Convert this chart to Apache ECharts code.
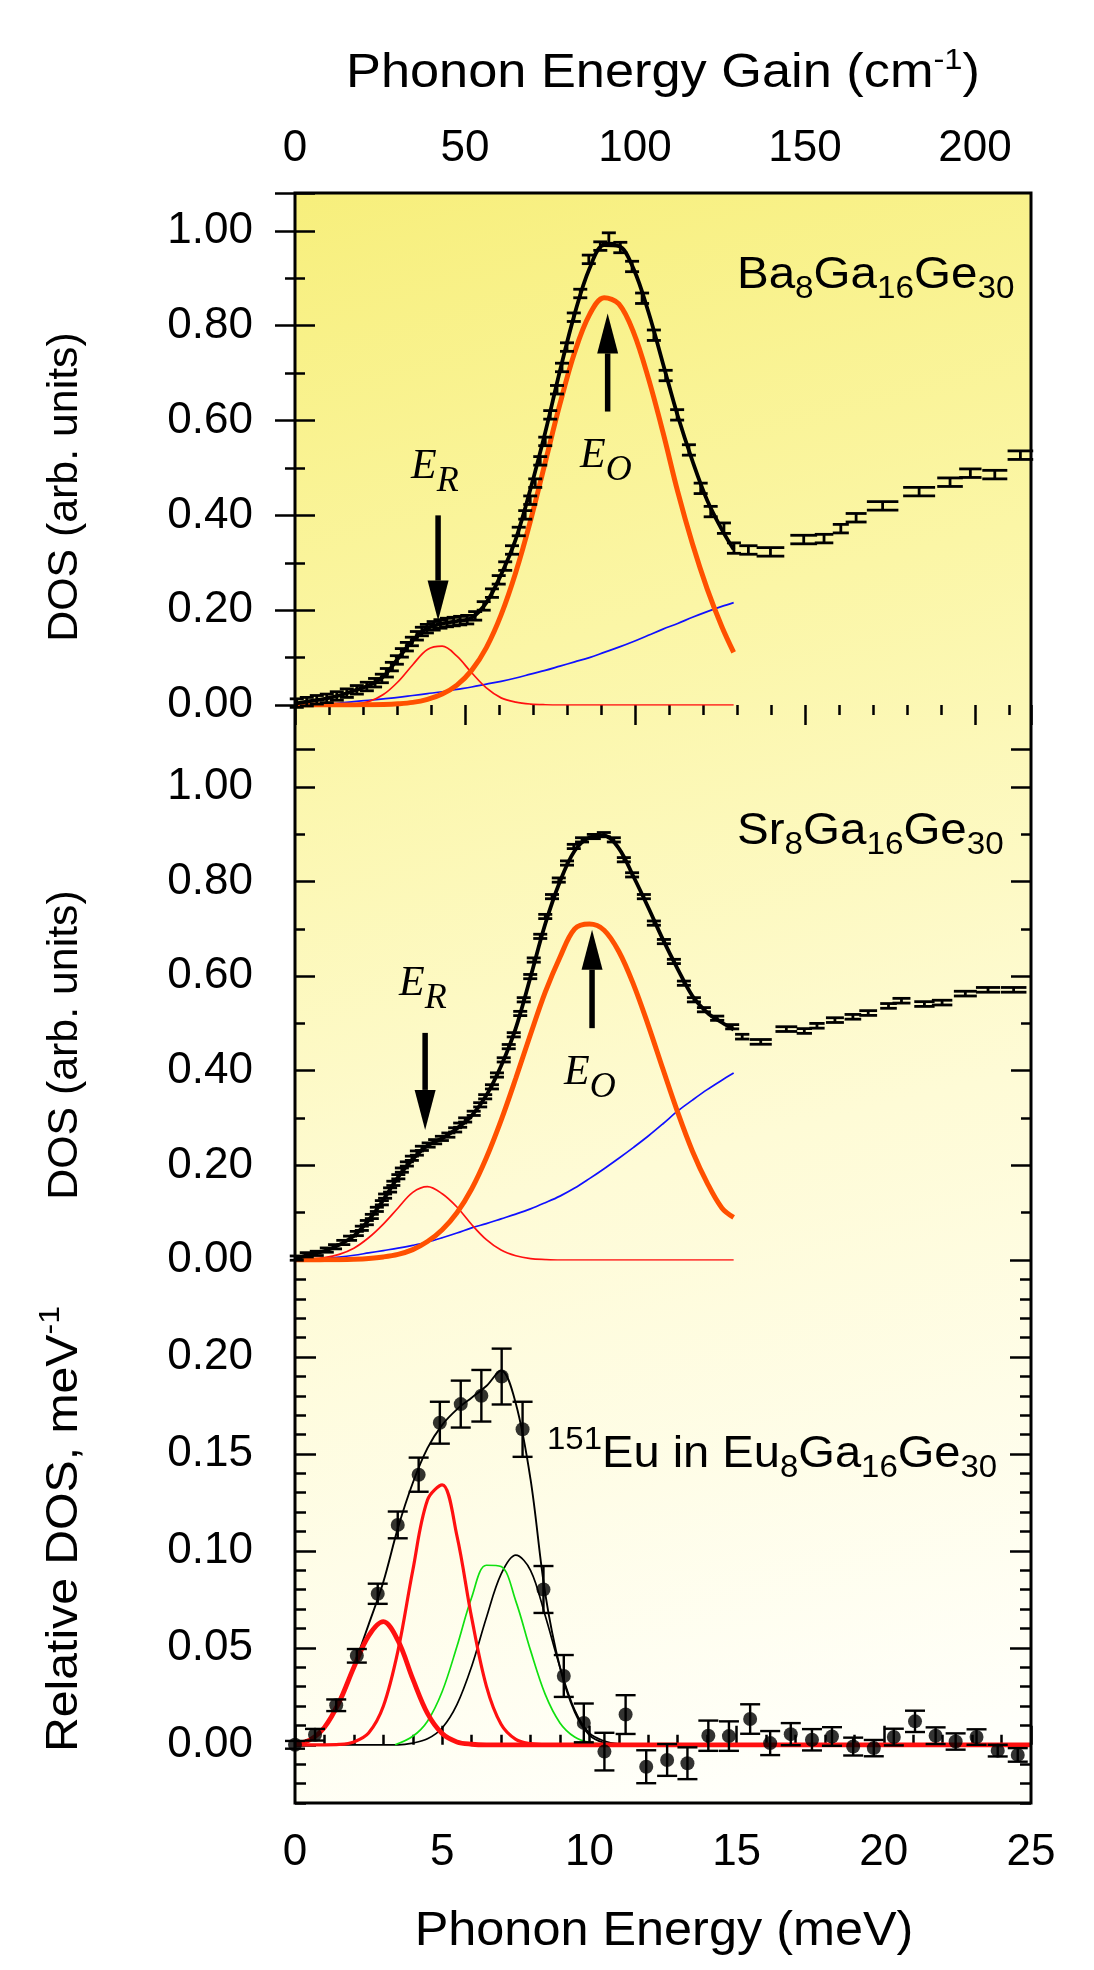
<!DOCTYPE html>
<html><head><meta charset="utf-8">
<script src="https://cdn.jsdelivr.net/npm/echarts@6/dist/echarts.min.js"></script>
<style>html,body{margin:0;padding:0;background:#fff}#c{width:1094px;height:1970px}</style>
</head><body><div id="c"></div>
<script>
// ---------------- DATA ----------------
// shared energy grid for the fit curves of panels 1 and 2 (meV)
const fitE = [0,0.5,1,1.5,2,2.5,3,3.5,4,4.5,5,5.5,6,6.5,7,7.5,8,8.5,9,9.5,10,10.5,11,11.5,12,12.5,13,13.5,14,14.5,14.9];
// Ba8Ga16Ge30 fits
const baRed    = [0,0,0.0001,0.0004,0.002,0.007,0.022,0.049,0.085,0.117,0.124,0.103,0.068,0.036,0.015,0.006,0.002,0.0005,0,0,0,0,0,0,0,0,0,0,0,0,0];
const baOrange = [0,0,0,0,0.0002,0.0005,0.001,0.0025,0.0055,0.012,0.023,0.042,0.073,0.121,0.19,0.28,0.389,0.512,0.635,0.744,0.823,0.859,0.846,0.786,0.69,0.575,0.45,0.34,0.245,0.165,0.111];
const baBlue   = [0,0.0005,0.002,0.004,0.007,0.01,0.013,0.016,0.02,0.024,0.028,0.033,0.038,0.044,0.05,0.057,0.065,0.073,0.082,0.091,0.1,0.111,0.122,0.134,0.147,0.16,0.172,0.185,0.197,0.208,0.216];
const baTotal  = [0.003,0.008,0.013,0.02,0.03,0.041,0.06,0.098,0.136,0.162,0.172,0.177,0.184,0.216,0.275,0.35,0.456,0.575,0.705,0.825,0.92,0.97,0.968,0.92,0.83,0.72,0.61,0.515,0.432,0.37,0.328];
// Ba8Ga16Ge30 measured DOS
const baE = [0.06,0.40,0.74,1.08,1.42,1.76,2.10,2.44,2.72,2.95,3.12,3.29,3.46,3.63,3.80,3.97,4.14,4.31,4.48,4.71,4.94,5.16,5.39,5.61,5.85,6.12,6.41,6.69,6.92,7.14,7.37,7.60,7.82,7.99,8.16,8.33,8.50,8.67,8.90,9.07,9.24,9.47,9.69,9.98,10.37,10.66,11.05,11.45,11.79,12.19,12.59,12.98,13.38,13.78,14.12,14.57,14.91,15.40,16.15,17.28,17.97,18.54,19.06,19.96,21.20,22.25,22.94,23.77,24.64];
const baV = [0.004,0.007,0.011,0.014,0.019,0.025,0.032,0.039,0.047,0.056,0.068,0.081,0.095,0.110,0.123,0.134,0.146,0.155,0.161,0.167,0.171,0.174,0.176,0.178,0.180,0.188,0.209,0.236,0.264,0.293,0.327,0.366,0.401,0.432,0.468,0.515,0.556,0.612,0.665,0.712,0.755,0.818,0.868,0.940,0.968,0.985,0.965,0.925,0.858,0.780,0.695,0.612,0.538,0.457,0.408,0.373,0.331,0.327,0.323,0.349,0.351,0.372,0.395,0.420,0.450,0.470,0.489,0.486,0.527];
const baErr = [0.009,0.009,0.009,0.009,0.009,0.009,0.009,0.009,0.009,0.009,0.009,0.009,0.009,0.009,0.009,0.009,0.009,0.009,0.009,0.009,0.009,0.009,0.009,0.009,0.009,
  0.009,0.009,0.009,0.009,0.009,0.009,0.009,0.009,0.009,0.009,0.009,0.009,0.009,0.009,0.009,0.009,0.009,0.009,0.009,0.009,
  0.011,0.011,0.011,0.011,0.011,0.011,0.011,0.011,0.011,0.011,0.011,0.011,
  0.009,0.009,0.009,0.009,0.009,0.009,0.009,0.009,0.009,0.009,0.009,0.009];
// Sr8Ga16Ge30 fits
const srRed    = [0.0007,0.002,0.005,0.012,0.025,0.047,0.076,0.11,0.143,0.155,0.14,0.112,0.075,0.043,0.021,0.009,0.003,0.001,0,0,0,0,0,0,0,0,0,0,0,0,0];
const srOrange = [0,0,0.0003,0.0007,0.0016,0.0033,0.0065,0.012,0.022,0.039,0.064,0.1,0.15,0.216,0.295,0.384,0.477,0.566,0.64,0.70,0.71,0.697,0.652,0.582,0.496,0.403,0.312,0.23,0.163,0.11,0.09];
const srBlue   = [0,0.001,0.003,0.006,0.01,0.015,0.02,0.025,0.031,0.038,0.047,0.057,0.068,0.077,0.087,0.097,0.108,0.121,0.135,0.152,0.172,0.193,0.215,0.238,0.262,0.288,0.315,0.338,0.36,0.38,0.395];
const srTotal  = [0.002,0.012,0.019,0.032,0.051,0.084,0.127,0.175,0.213,0.242,0.257,0.278,0.305,0.348,0.41,0.49,0.598,0.71,0.80,0.865,0.893,0.897,0.87,0.81,0.745,0.677,0.615,0.558,0.523,0.502,0.487];
// Sr8Ga16Ge30 measured DOS
const srE = [0.06,0.40,0.74,1.08,1.36,1.64,1.87,2.10,2.27,2.44,2.61,2.78,2.95,3.06,3.23,3.34,3.51,3.63,3.80,3.97,4.14,4.31,4.54,4.76,4.99,5.21,5.44,5.61,5.78,6.07,6.29,6.46,6.69,6.86,7.09,7.26,7.43,7.65,7.77,7.99,8.11,8.33,8.50,8.73,8.96,9.24,9.47,9.75,10.15,10.49,10.83,11.17,11.45,11.85,12.19,12.53,12.87,13.21,13.55,13.89,14.34,14.85,15.19,15.82,16.69,17.30,17.73,18.34,18.95,19.47,20.16,20.60,21.38,21.98,22.77,23.54,24.41];
const srV = [0.004,0.011,0.014,0.021,0.028,0.037,0.046,0.056,0.067,0.079,0.092,0.107,0.121,0.135,0.148,0.162,0.176,0.190,0.203,0.215,0.226,0.236,0.243,0.250,0.257,0.264,0.275,0.285,0.296,0.310,0.328,0.345,0.366,0.391,0.423,0.451,0.476,0.521,0.550,0.599,0.634,0.684,0.726,0.768,0.803,0.839,0.874,0.888,0.895,0.899,0.888,0.846,0.814,0.768,0.712,0.673,0.631,0.585,0.550,0.529,0.511,0.493,0.472,0.461,0.488,0.484,0.495,0.507,0.514,0.522,0.537,0.548,0.541,0.544,0.563,0.571,0.571];
const srErr = [0.0045,0.0045,0.0045,0.0045,0.0045,0.0045,0.0045,0.0045,0.0045,0.0045,0.0045,0.0045,0.0045,0.0045,0.0045,0.0045,0.0045,0.0045,0.0045,0.0045,
  0.0045,0.0045,0.0045,0.0045,0.0045,0.0045,0.0045,0.0045,0.0045,0.0045,0.0045,0.0045,0.0045,0.0045,0.0045,0.0045,0.0045,0.0045,0.0045,0.0045,
  0.0045,0.0045,0.0045,0.0045,0.0045,0.0045,0.0045,0.0045,0.0045,0.0045,0.0045,0.0045,0.0045,0.0045,0.0045,0.0045,0.0045,0.0045,0.0045,0.0045,
  0.0045,0.0045,0.005,0.005,0.005,0.005,0.005,0.005,0.005,0.005,0.005,0.005,0.005,0.005,0.005,0.005,0.005];
// 151Eu in Eu8Ga16Ge30 fits
const euFitE  = [0,0.5,1,1.5,2,2.5,3,3.5,4,4.5,5,5.5,6,6.5,7,7.5,8,8.5,9,9.5,10,10.5,11,25];
const euRedA  = [0.0004,0.0025,0.009,0.022,0.04,0.0562,0.0635,0.0537,0.034,0.0162,0.0058,0.0015,0.0003,0,0,0,0,0,0,0,0,0,0,0];
const euRedB  = [0,0,0,0.0002,0.0015,0.0061,0.0199,0.0487,0.0899,0.1262,0.134,0.1078,0.0656,0.0303,0.0106,0.0028,0.0006,0.0001,0,0,0,0,0,0];
const euBlackC= [0,0,0,0,0,0,0,0,0.0009,0.0031,0.0087,0.0207,0.0404,0.0655,0.088,0.0978,0.09,0.0665,0.04,0.018,0.006,0.002,0.0005,0];
const euTotal = [0,0.002,0.009,0.023,0.041,0.062,0.084,0.112,0.135,0.153,0.165,0.173,0.179,0.185,0.193,0.176,0.137,0.078,0.04,0.017,0.005,0.001,0,0];
const euGreenE= [3.4,4,4.5,5,5.5,6,6.5,7,7.5,8,8.5,9,9.5,10,10.5,11];
const euGreen = [0,0.0044,0.0122,0.0275,0.0507,0.076,0.0926,0.0919,0.0741,0.0487,0.026,0.0113,0.004,0.0011,0.0003,0];
// 151Eu measured DOS
const euE   = [0,0.68,1.40,2.10,2.81,3.49,4.20,4.92,5.63,6.33,7.02,7.73,8.44,9.13,9.81,10.51,11.23,11.93,12.64,13.33,14.04,14.74,15.46,16.14,16.84,17.56,18.24,18.96,19.66,20.34,21.06,21.76,22.44,23.15,23.87,24.55];
const euV   = [0,0.0052,0.0204,0.0459,0.0779,0.1134,0.1393,0.1661,0.1757,0.180,0.1899,0.1627,0.0801,0.0355,0.0113,-0.0035,0.0156,-0.0113,-0.0078,-0.0095,0.0047,0.0045,0.0133,0.0009,0.0055,0.0026,0.0043,-0.0009,-0.0017,0.004,0.0121,0.0047,0.0017,0.004,-0.003,-0.0052];
const euErr = [0.002,0.003,0.003,0.0035,0.0052,0.0069,0.0088,0.0108,0.0121,0.0133,0.0144,0.0142,0.0121,0.0108,0.010,0.0097,0.010,0.0085,0.0082,0.0082,0.0078,0.0076,0.0076,0.0062,0.0057,0.0055,0.0048,0.0046,0.0042,0.0043,0.0055,0.0043,0.0042,0.004,0.003,0.0035];
// arrows: [energy, from, to]
const baArrows = [[4.86,0.40,0.178],[10.62,0.619,0.826]];
const srArrows = [[4.42,0.48,0.275],[10.09,0.49,0.698]];
// axis ticks
const meVTicks = [0,5,10,15,20,25];
const cmTicks = [0,50,100,150,200];
const cmMax = 216.5;

// ---------------- HELPERS ----------------
const SANS = '"Liberation Sans"';
const SERIF = '"Liberation Serif"';
const zip = (a, b) => a.map((x, i) => [x, b[i]]);
function errRows(E, V, Err) {
  return E.map((x, i) => {
    const prev = i > 0 ? E[i - 1] : x - (E[1] - E[0]);
    const next = i < E.length - 1 ? E[i + 1] : x + (x - E[i - 1]);
    return [x, V[i], Err[i], (next - prev) / 4];
  });
}
function errRender(minHw, maxHw, lw) {
  return function (params, api) {
    const x = api.value(0), y = api.value(1), e = api.value(2), hs = api.value(3);
    const t = api.coord([x, y + e]), b = api.coord([x, y - e]);
    let w = api.size([hs, 0])[0];
    w = Math.max(minHw, Math.min(maxHw, w));
    const st = { stroke: '#000', lineWidth: lw, fill: null };
    return { type: 'group', children: [
      { type: 'line', shape: { x1: t[0], y1: t[1], x2: b[0], y2: b[1] }, style: st },
      { type: 'line', shape: { x1: t[0] - w, y1: t[1], x2: t[0] + w, y2: t[1] }, style: st },
      { type: 'line', shape: { x1: b[0] - w, y1: b[1], x2: b[0] + w, y2: b[1] }, style: st }
    ]};
  };
}
function arrowRender(params, api) {
  const x = api.value(0);
  const p1 = api.coord([x, api.value(1)]), p2 = api.coord([x, api.value(2)]);
  const dir = p2[1] > p1[1] ? 1 : -1;
  const hl = 40, hw = 10.5;
  const base = p2[1] - dir * hl;
  return { type: 'group', children: [
    { type: 'line', shape: { x1: p1[0], y1: p1[1], x2: p1[0], y2: base }, style: { stroke: '#000', lineWidth: 5.5 } },
    { type: 'polygon', shape: { points: [[p2[0], p2[1]], [p2[0] - hw, base], [p2[0] + hw, base]] }, style: { fill: '#000' } }
  ]};
}
const mctx = document.createElement('canvas').getContext('2d');
function tw(t, size, fam, fst) { mctx.font = (fst || 'normal') + ' ' + size + 'px ' + fam; return mctx.measureText(t).width; }
// parts: [text, kind('n'|'sub'|'sup'), optional size override]
function mixedText(parts, o) {
  const fam = o.family || SANS, S = o.size, sc = o.scale || 0.7, fst = o.fontStyle || 'normal';
  const items = parts.map(p => {
    const k = p[1] || 'n';
    const sz = p[2] || (k === 'n' ? S : S * sc);
    const dy = k === 'sub' ? (o.subShift != null ? o.subShift : 0.22 * S) : (k === 'sup' ? -(o.supShift != null ? o.supShift : 0.42 * S) : 0);
    return { t: p[0], sz, dy, w: tw(p[0], sz, fam, fst) };
  });
  const total = items.reduce((s, it) => s + it.w, 0);
  let cur = o.align === 'center' ? -total / 2 : 0;
  const children = items.map(it => {
    const c = { type: 'text', x: cur, y: it.dy - 0.35 * it.sz,
      style: { text: it.t, fill: '#000', font: fst + ' ' + it.sz + 'px ' + fam, textAlign: 'left', textVerticalAlign: 'middle' } };
    cur += it.w;
    return c;
  });
  return { type: 'group', x: o.x, y: o.y, rotation: o.rotation || 0, scaleX: o.sx || 1, scaleY: 1, silent: true, z: 50, children };
}

// ---------------- LAYOUT ----------------
const L = 295, W = 736;
const grids = [
  { left: L, width: W, top: 193, height: 512 },
  { left: L, width: W, top: 749, height: 511 },
  { left: L, width: W, top: 1260, height: 543 },
  { left: L, width: W, top: 1260, height: 485 }
];
const tickStyle = { color: '#000', width: 2.5 };
const labelStyle = { color: '#000', fontFamily: SANS, fontSize: 44 };
function yAx(grid, pos, min, max, interval, major, minorSplit, labels, fmt) {
  return {
    type: 'value', gridIndex: grid, position: pos, min, max, interval,
    axisLine: { show: false }, splitLine: { show: false },
    axisTick: { show: true, inside: true, length: major, lineStyle: tickStyle },
    minorTick: { show: !!minorSplit, splitNumber: minorSplit || 5, length: major / 2, lineStyle: tickStyle },
    axisLabel: labels ? Object.assign({ show: true, margin: 42, formatter: fmt }, labelStyle) : { show: false }
  };
}
const fmt02 = v => (Math.abs(v * 5 - Math.round(v * 5)) < 1e-6 ? v.toFixed(2) : '');
const fmtEu = v => (v <= 0.2001 && v >= -0.0001 ? v.toFixed(2) : '');

const option = {
  animation: false,
  backgroundColor: '#fff',
  grid: grids,
  xAxis: [
    { type: 'value', gridIndex: 0, min: 0, max: 25, show: false },
    { type: 'value', gridIndex: 0, position: 'top', min: 0, max: cmMax, interval: 50,
      axisLine: { show: false }, splitLine: { show: false },
      axisTick: { inside: true, length: 20, lineStyle: tickStyle },
      minorTick: { show: true, splitNumber: 5, length: 10, lineStyle: tickStyle },
      axisLabel: Object.assign({ margin: 22, formatter: v => (cmTicks.indexOf(v) >= 0 ? String(v) : '') }, labelStyle) },
    { type: 'value', gridIndex: 1, min: 0, max: 25, show: false },
    { type: 'value', gridIndex: 2, position: 'bottom', min: 0, max: 25, interval: 5,
      axisLine: { show: false }, splitLine: { show: false },
      axisTick: { inside: true, length: 19, lineStyle: tickStyle },
      minorTick: { show: true, splitNumber: 5, length: 10, lineStyle: tickStyle },
      axisLabel: Object.assign({ margin: 28, formatter: v => (meVTicks.indexOf(v) >= 0 ? String(v) : '') }, labelStyle) },
    { type: 'value', gridIndex: 3, min: 0, max: 25, show: false }
  ],
  yAxis: [
    yAx(0, 'left', 0, 1.08, 0.2, 20, 2, true, fmt02),
    yAx(0, 'right', 0, 1.08, 0.2, 20, 2, false),
    yAx(1, 'left', 0, 1.08, 0.2, 20, 2, true, fmt02),
    yAx(1, 'right', 0, 1.08, 0.2, 20, 2, false),
    yAx(2, 'left', -0.03, 0.25, 0.01, 11, 0, false),
    yAx(2, 'right', -0.03, 0.25, 0.01, 11, 0, false),
    yAx(3, 'left', 0, 0.25, 0.05, 21, 0, true, fmtEu),
    yAx(3, 'right', 0, 0.25, 0.05, 21, 0, false)
  ],
  graphic: [],
  series: []
};

// ---------- series ----------
function line(xi, yi, xs, ys, color, width, z) {
  return { type: 'line', xAxisIndex: xi, yAxisIndex: yi, data: zip(xs, ys), showSymbol: false, symbol: 'none',
    smooth: 0.35, lineStyle: { color, width }, z: z || 2, silent: true };
}
const S = option.series;
// panel 1
S.push(line(0, 0, fitE, baBlue, '#1010ff', 1.7));
S.push(line(0, 0, fitE, baRed, '#ff1010', 1.7));
S.push(line(0, 0, fitE, baOrange, '#ff5000', 5));
S.push(line(0, 0, fitE, baTotal, '#000', 3.8, 3));
S.push({ type: 'custom', xAxisIndex: 0, yAxisIndex: 0, renderItem: errRender(7, 16, 2.8), data: errRows(baE, baV, baErr), z: 4, silent: true, clip: false });
S.push({ type: 'custom', xAxisIndex: 0, yAxisIndex: 0, renderItem: arrowRender, data: baArrows, z: 5, silent: true });
// panel 2
S.push(line(2, 2, fitE, srBlue, '#1010ff', 1.7));
S.push(line(2, 2, fitE, srRed, '#ff1010', 1.7));
S.push(line(2, 2, fitE, srOrange, '#ff5000', 5));
S.push(line(2, 2, fitE, srTotal, '#000', 3.8, 3));
S.push({ type: 'custom', xAxisIndex: 2, yAxisIndex: 2, renderItem: errRender(7, 16, 2.8), data: errRows(srE, srV, srErr), z: 4, silent: true, clip: false });
S.push({ type: 'custom', xAxisIndex: 2, yAxisIndex: 2, renderItem: arrowRender, data: srArrows, z: 5, silent: true });
// panel 3
S.push(line(3, 4, euFitE, euBlackC, '#000', 1.7));
S.push(line(3, 4, euGreenE, euGreen, '#10e010', 1.7));
S.push(line(3, 4, euFitE, euTotal, '#000', 1.9));
S.push(line(3, 4, euFitE, euRedB, '#ff1010', 3.2));
S.push(line(3, 4, euFitE, euRedA, '#ff1010', 4.8));
S.push({ type: 'custom', xAxisIndex: 3, yAxisIndex: 4, renderItem: errRender(10, 10, 2.4), data: errRows(euE, euV, euErr), z: 4, silent: true, clip: false });
S.push({ type: 'scatter', xAxisIndex: 3, yAxisIndex: 4, data: zip(euE, euV), symbol: 'circle', symbolSize: 14,
  itemStyle: { color: '#000' }, z: 5, silent: true, clip: false });

// ---------- graphics (background, frame, texts) ----------
const G = option.graphic;
G.push({ type: 'rect', z: -10, silent: true, shape: { x: L, y: 193, width: W, height: 1610 },
  style: { fill: new echarts.graphic.LinearGradient(0, 0, 0.55, 1, [
    { offset: 0, color: '#f7ef7c' }, { offset: 0.3, color: '#fbf6a6' }, { offset: 0.62, color: '#fefbd6' }, { offset: 1, color: '#fffffa' }]) } });
G.push({ type: 'rect', z: 60, silent: true, shape: { x: L, y: 193, width: W, height: 1610 },
  style: { fill: 'none', stroke: '#000', lineWidth: 3 } });
// titles
G.push(mixedText([['Phonon Energy Gain (cm'], ['-1', 'sup', 30], [')']], { x: 663, y: 91, size: 48, align: 'center', sx: 1.09 }));
G.push(mixedText([['Phonon Energy (meV)']], { x: 664, y: 1949, size: 48, align: 'center', sx: 1.05 }));
G.push(mixedText([['DOS (arb. units)']], { x: 80, y: 487, size: 42, align: 'center', rotation: Math.PI / 2, sx: 1.02 }));
G.push(mixedText([['DOS (arb. units)']], { x: 80, y: 1045, size: 42, align: 'center', rotation: Math.PI / 2, sx: 1.02 }));
G.push(mixedText([['Relative DOS, meV'], ['-1', 'sup', 30]], { x: 80, y: 1529, size: 45, align: 'center', rotation: Math.PI / 2, sx: 1.07 }));
// compound labels
G.push(mixedText([['Ba'], ['8', 'sub'], ['Ga'], ['16', 'sub'], ['Ge'], ['30', 'sub']], { x: 737, y: 291, size: 44, sx: 1.08 }));
G.push(mixedText([['Sr'], ['8', 'sub'], ['Ga'], ['16', 'sub'], ['Ge'], ['30', 'sub']], { x: 737, y: 847, size: 44, sx: 1.08 }));
G.push(mixedText([['151', 'sup'], ['Eu in Eu'], ['8', 'sub'], ['Ga'], ['16', 'sub'], ['Ge'], ['30', 'sub']], { x: 547, y: 1470, size: 44, sx: 1.07 }));
// E_R / E_O
const eLab = (x, y, sub) => mixedText([['E'], [sub, 'sub', 36]], { x, y, size: 42, family: SERIF, fontStyle: 'italic', subShift: 12 });
G.push(eLab(411, 482, 'R'));
G.push(eLab(580, 471, 'O'));
G.push(eLab(399, 999, 'R'));
G.push(eLab(564, 1088, 'O'));

const chart = echarts.init(document.getElementById('c'), null, { renderer: 'canvas', width: 1094, height: 1970 });
chart.setOption(option);
</script></body></html>
